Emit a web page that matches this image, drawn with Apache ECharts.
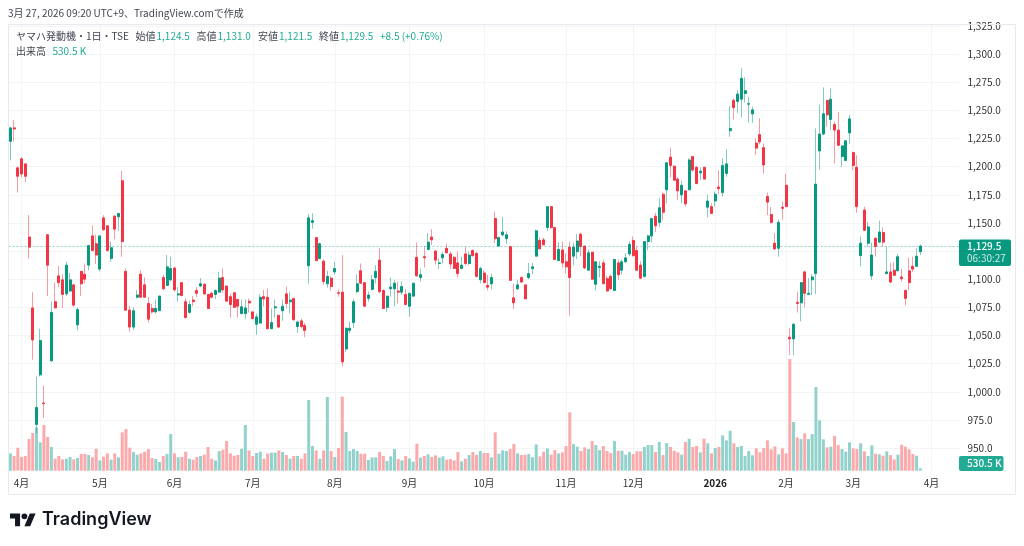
<!DOCTYPE html>
<html>
<head>
<meta charset="utf-8">
<style>
  html, body { margin: 0; padding: 0; background: #fff; }
  #chart { width: 1024px; height: 546px; }
</style>
<script src="https://cdn.jsdelivr.net/npm/echarts@6/dist/echarts.min.js"></script>
</head>
<body>
<div id="chart"></div>
<script>
// 始値
var opens = [
  1222.5,1234.5,1199,1207,1202.5,1137.5,1074.5,971,1015,990,
  1139.5,1027.5,1080,1103,1099.5,1087,1089.5,1095,1059.5,1107,
  1104.5,1112.5,1138.5,1131.5,1109,1154.5,1147.5,1118.5,1156,1155.5,
  1187.5,1107,1072.5,1057.5,1084,1104.5,1095,1078.5,1074,1071,
  1072,1101.5,1094.5,1099.5,1110,1086,1097,1080,1070.5,1081.5,
  1090,1094,1095.5,1086.5,1087.5,1086.5,1088.5,1101.5,1094,1084.5,
  1088,1082,1069.5,1069.5,1080.5,1071,1060,1061,1084.5,1084,
  1056,1074.5,1068,1072,1087,1080,1083,1058,1063,1059,
  1112,1150.5,1137,1118.5,1116,1096,1101,1106.5,1088,1088.5,
  1038,1054.5,1061.5,1089,1107.5,1097,1083,1091,1101.5,1117,
  1090,1075,1091.5,1091.5,1089.5,1088.5,1086.5,1076,1085,1119.5,
  1101.5,1120,1126.5,1137.5,1125,1114,1119,1127.5,1122.5,1119.5,
  1114.5,1109.5,1122.5,1114,1125.5,1123,1099.5,1105.5,1094.5,1096,
  1154,1129.5,1139.5,1136,1129,1083.5,1091.5,1101.5,1095,1101.5,
  1109.5,1120.5,1134.5,1135,1146,1164.5,1146,1116.5,1126,1115.5,
  1128.5,1120.5,1124.5,1140,1129.5,1108,1124,1095.5,1110.5,1114.5,
  1100.5,1102.5,1090,1114.5,1108,1115.5,1122.5,1134.5,1125.5,1112.5,
  1102.5,1133.5,1138.5,1156,1150.5,1175.5,1179.5,1208.5,1200.5,1189,
  1175,1178.5,1179.5,1209,1199.5,1194.5,1199.5,1164,1164.5,1169.5,
  1182,1177,1194,1232,1259,1258,1260,1265,1255.5,1247,
  1221,1228.5,1217,1173.5,1157.5,1132,1127.5,1164,1183.5,1048.5,
  1047,1079.5,1079,1106.5,1086.5,1099.5,1105,1214,1229,1259,
  1242,1237.5,1232.5,1209,1205.5,1230,1212.5,1199.5,1121,1161.5,
  1132,1103,1136.5,1133,1141.5,1105,1106.5,1108,1107.5,1102,
  1090,1107.5,1111.5,1111.5,1124.5
]
// 終値
var closes = [
  1234.5,1233.5,1191.5,1193.5,1191.5,1128.5,1046,986,1045.5,989.5,
  1112.5,1070.5,1074.5,1097,1086.5,1112.5,1099.5,1077,1073,1096,
  1100,1130,1125.5,1121.5,1138.5,1144,1125.5,1128,1144.5,1158.5,
  1133.5,1072.5,1057.5,1072,1086,1084,1084,1064.5,1071,1074,
  1085,1091.5,1111,1109.5,1090.5,1087,1085.5,1066,1077.5,1080,
  1087.5,1096,1087,1074,1084,1090,1101,1090.5,1080.5,1077.5,
  1075,1076,1075.5,1074.5,1079,1065,1066.5,1084,1082.5,1056,
  1061.5,1075.5,1057.5,1076,1078.5,1081.5,1064,1062,1058,1054.5,
  1154.5,1152,1116.5,1131.5,1098,1102.5,1093.5,1109.5,1087.5,1026.5,
  1056.5,1056.5,1080,1096,1096.5,1076,1086,1099.5,1107,1089,
  1074,1085,1093,1096.5,1088.5,1093.5,1077.5,1087.5,1096.5,1103,
  1104,1119,1133,1135,1117,1114.5,1122,1123.5,1113.5,1109.5,
  1105,1112.5,1114,1121.5,1121,1102.5,1109.5,1097,1093,1101.5,
  1136,1137,1142,1139.5,1099,1079,1095,1097.5,1082.5,1105,
  1111,1143,1127,1130.5,1164.5,1146,1117.5,1126.5,1114.5,1111,
  1101.5,1128.5,1134,1129,1110,1123.5,1100,1115.5,1111.5,1096,
  1089.5,1091.5,1117.5,1104,1115.5,1119,1131,1121,1108,1101,
  1133.5,1138.5,1154,1147.5,1163.5,1159.5,1203.5,1201,1188,1178.5,
  1183.5,1167,1206,1197,1185,1196,1189,1169.5,1158.5,1175.5,
  1180.5,1201,1202.5,1234,1252.5,1264.5,1278.5,1267.5,1256,1250.5,
  1216.5,1222,1201.5,1168.5,1150.5,1127,1150.5,1163,1164.5,1047,
  1060,1078.5,1097,1087.5,1087.5,1102,1184.5,1229,1247,1246,
  1260,1232.5,1219,1218.5,1223,1242.5,1201,1164.5,1132,1143.5,
  1146.5,1121.5,1129,1142,1133,1106.5,1097.5,1103.5,1120,1100.5,
  1083,1097,1109,1120.5,1129.5
]
// 安値
var lows = [
  1205.5,1222.5,1177,1190.5,1186.5,1118.5,1028.5,963,1013.5,976.5,
  1085,1027,1074,1093,1074.5,1085,1089,1075.5,1054.5,1085,
  1096.5,1108,1125,1113.5,1107,1143,1124.5,1115.5,1135.5,1143,
  1120,1072,1053.5,1055,1083,1084,1084,1061.5,1069.5,1069.5,
  1072,1090.5,1094,1098,1089,1080,1085,1065,1069.5,1076,
  1084,1093,1086,1074,1083,1082.5,1088.5,1088,1080.5,1066,
  1075,1066,1069,1064.5,1070.5,1064.5,1050.5,1061,1076,1056,
  1056,1066,1056.5,1063,1074.5,1069.5,1063,1052.5,1056.5,1048.5,
  1096,1145,1116.5,1117.5,1095,1092.5,1090,1104,1084.5,1022.5,
  1035.5,1052,1056.5,1087.5,1096,1076,1080,1090,1096.5,1087.5,
  1074,1071,1084.5,1076,1078.5,1086,1077,1066.5,1084.5,1102.5,
  1098,1110.5,1126,1130.5,1113,1109,1114,1123,1109,1109,
  1101.5,1109,1112,1112.5,1120,1101.5,1096.5,1096.5,1090,1091,
  1132,1129,1138,1131.5,1099,1073.5,1090.5,1097,1082.5,1100,
  1104.5,1120.5,1126.5,1130.5,1143,1144.5,1117.5,1116,1110.5,1105,
  1067.5,1112.5,1118,1120.5,1109,1108,1100,1090,1101.5,1095.5,
  1089.5,1091,1089.5,1099.5,1104,1114.5,1120.5,1120,1107.5,1100,
  1101.5,1126,1132.5,1142,1146.5,1152.5,1167.5,1190.5,1187.5,1170.5,
  1167.5,1164.5,1179.5,1195.5,1184.5,1188,1189,1155,1158,1164.5,
  1175.5,1173.5,1191,1226.5,1242,1247.5,1244,1257,1239,1239,
  1210.5,1220,1194,1157,1149.5,1126,1120,1153,1164,1032.5,
  1032.5,1070.5,1062.5,1075,1086,1086,1087,1197.5,1228,1235.5,
  1232.5,1203,1218.5,1200,1205.5,1220.5,1197,1159,1111.5,1143,
  1129,1099.5,1120,1132,1129,1104.5,1096.5,1103,1107,1098,
  1076.5,1090,1106.5,1111,1121.5
]
// 高値
var highs = [
  1234.5,1241.5,1200,1208.5,1203,1157,1088.5,1013.5,1056,1005.5,
  1140,1080,1097,1112,1104.5,1115.5,1105.5,1096,1075,1107,
  1114,1130,1148,1139.5,1138.5,1157,1147.5,1133.5,1157,1158.5,
  1196.5,1109.5,1076.5,1075,1090.5,1108,1101.5,1084.5,1078,1082,
  1085.5,1104,1121.5,1120,1111,1093,1097,1083,1081,1085,
  1093,1101,1096.5,1086.5,1089,1091,1106.5,1109.5,1094,1087,
  1088,1082,1082,1082,1083,1071,1069.5,1087,1090.5,1091.5,
  1074,1082,1068,1082,1093.5,1088.5,1083,1063,1065,1061,
  1158,1158.5,1137,1132.5,1117.5,1107.5,1102.5,1115.5,1091,1121.5,
  1057,1062.5,1082.5,1104,1114,1097,1089,1104,1112.5,1127.5,
  1091,1085,1101.5,1099.5,1098,1098,1091,1088,1096.5,1132.5,
  1109.5,1129.5,1141,1144.5,1126,1118.5,1124.5,1131.5,1124.5,1120.5,
  1124.5,1120,1128.5,1124.5,1126.5,1124.5,1111,1108,1104,1105,
  1160,1138,1155.5,1142.5,1129,1096,1099.5,1102.5,1095,1114.5,
  1114.5,1144,1137,1137,1164.5,1164.5,1146,1133,1133.5,1123,
  1133.5,1132.5,1140,1141.5,1129.5,1126.5,1124,1115.5,1116,1117.5,
  1103,1104,1117.5,1117.5,1117.5,1123,1133.5,1138,1129,1116,
  1133.5,1139.5,1154.5,1159,1172,1177,1203.5,1216.5,1201,1190.5,
  1187.5,1179.5,1207.5,1209,1200.5,1199.5,1199.5,1175,1167.5,1178,
  1197,1207.5,1215.5,1254,1260.5,1268,1287.5,1279.5,1262,1253.5,
  1225,1243,1220.5,1177,1164,1141,1153,1169,1193.5,1056.5,
  1061,1089,1097.5,1107.5,1101,1104.5,1234,1255,1270.5,1259,
  1269.5,1240,1248.5,1218.5,1223,1246,1213.5,1210,1138,1164.5,
  1151,1132.5,1137,1152,1146,1129,1114.5,1115.5,1122.5,1109.5,
  1091,1119.5,1120,1127.5,1131
]
// 出来高 (K)
var volumes = [
  3670,3110,4880,2900,3110,6710,7990,9120,6010,9680,
  7140,5020,2540,3110,2400,2540,2900,2400,2690,3530,
  3530,3320,2830,4660,2190,2970,3670,2330,3670,2830,
  8130,8830,4880,3960,3390,3670,4030,4590,2690,2470,
  1840,3110,3530,7770,3670,2830,2900,4030,2540,2330,
  2900,3110,3390,5020,2540,2190,4170,4450,6290,3670,
  3180,3320,4660,9680,4310,3110,3750,4030,2540,3670,
  3820,3820,4310,3960,3320,2540,3110,3110,2540,3670,
  14980,5230,4310,2540,4310,15620,4170,2900,4810,15690,
  8200,4170,4590,4170,3600,3600,2260,2830,2830,3960,
  3110,2050,3040,4590,2470,2190,3110,2610,1910,5720,
  2760,3110,3460,2900,3250,2760,3040,2330,2470,2190,
  3960,1980,2540,3320,3960,3320,4170,3750,3750,2830,
  8130,3600,4310,4170,4590,5650,3670,3320,3390,3530,
  2830,5580,3040,4030,4730,3390,4380,3670,3890,5230,
  12370,5650,5090,4170,4950,4590,6290,5440,4380,5230,
  4170,3750,6290,4240,4240,3390,3960,3530,4100,4100,
  5020,5440,5440,3960,6080,3320,5870,5020,4240,3890,
  3390,6080,6780,5020,5230,3890,6780,5800,3670,4810,
  5020,7490,6430,8480,5800,5020,5230,3110,4170,3250,
  4730,3890,4810,6430,4520,5160,3460,4730,3670,23670,
  10320,7070,6710,7920,6710,7770,17740,10670,6640,4950,
  5090,7350,5440,4590,4030,6010,4730,4590,5800,4100,
  3110,5370,3600,3460,3180,4100,3320,2400,3390,5510,
  5090,4520,3530,3180,530.5
]
// 時間軸の目盛り
var tickIndex = [3, 24, 44, 65, 87, 107, 127, 149, 167, 189, 208, 226, 247]
var tickLabels = ['4月', '5月', '6月', '7月', '8月', '9月', '10月', '11月', '12月', '2026', '2月', '3月', '4月']
var priceTicks = [950, 975, 1000, 1025, 1050, 1075, 1100, 1125, 1150, 1175, 1200, 1225, 1250, 1275, 1300, 1325]
var lastPrice = 1129.5

var UP = '#089981'
var DOWN = '#F23645'
var UP_WICK = 'rgba(8,153,129,0.5)'
var DOWN_WICK = 'rgba(242,54,69,0.5)'
var FONT = "'Noto Sans CJK JP','Noto Sans',sans-serif"
var BAND_COUNT = 255

var categories = []
for (var i = 0; i < BAND_COUNT; i++) {
  var t = tickIndex.indexOf(i)
  categories.push(t >= 0 ? tickLabels[t] : String(i))
}
var isTick = function(index) {
  return tickIndex.indexOf(index) >= 0
}

var wicks = opens.map(function(o, i) {
  return [o, closes[i], lows[i], highs[i]]
})
// 実体だけの系列 (ヒゲは上の系列で薄く描く)
var bodies = opens.map(function(o, i) {
  return [o, closes[i], Math.min(o, closes[i]), Math.max(o, closes[i])]
})
var volumeBars = volumes.map(function(v, i) {
  return {
    value: v,
    itemStyle: { color: closes[i] >= opens[i] ? '#92D2CC' : '#FBA9AB' },
  }
})

var textItem = function(text, x, y, color, size, weight, family) {
  return {
    type: 'text',
    x: x,
    y: y,
    z: 20,
    style: {
      text: text,
      fill: color,
      font: (weight || 'normal') + ' ' + size + 'px ' + (family || FONT),
      textVerticalAlign: 'middle',
    },
  }
}
var GREY = '#434651'
var TEAL = '#22AB94'

var option = {
  animation: false,
  backgroundColor: '#fff',
  grid: [
    { left: 8.5, width: 951, top: 24, height: 447 },
    { left: 8.5, width: 951, top: 357.5, height: 113.2 },
  ],
  xAxis: [
    {
      type: 'category',
      gridIndex: 0,
      data: categories,
      axisLine: { show: false },
      axisTick: { show: false },
      axisLabel: {
        interval: isTick,
        margin: 7,
        color: '#333',
        fontFamily: FONT,
        fontSize: 10,
        hideOverlap: false,
        formatter: function(v) {
          return v === '2026' ? '{b|2026}' : v
        },
        rich: { b: { fontWeight: 'bold', fontSize: 10, fontFamily: FONT, color: '#222' } },
      },
      splitLine: {
        show: true,
        alignWithLabel: true,
        interval: isTick,
        lineStyle: { color: '#F3F4F6', width: 1 },
      },
    },
    {
      type: 'category',
      gridIndex: 1,
      data: categories,
      show: false,
    },
  ],
  yAxis: [
    {
      type: 'value',
      gridIndex: 0,
      position: 'right',
      min: 929.6,
      max: 1326.8,
      axisLine: { show: false },
      axisTick: { show: false, customValues: priceTicks },
      axisLabel: {
        customValues: priceTicks,
        margin: 8,
        color: '#333',
        fontFamily: FONT,
        fontSize: 10,
        formatter: function(v) {
          return v.toLocaleString('en-US', { minimumFractionDigits: 1, maximumFractionDigits: 1 })
        },
      },
      splitLine: { show: true, lineStyle: { color: '#F3F4F6', width: 1 } },
    },
    {
      type: 'value',
      gridIndex: 1,
      min: 0,
      max: 24000,
      show: false,
    },
  ],
  series: [
    {
      name: '出来高',
      type: 'bar',
      xAxisIndex: 1,
      yAxisIndex: 1,
      data: volumeBars,
      barWidth: 3,
    },
    {
      name: 'ヒゲ',
      type: 'candlestick',
      xAxisIndex: 0,
      yAxisIndex: 0,
      data: wicks,
      barWidth: 1,
      itemStyle: {
        color: 'transparent',
        color0: 'transparent',
        borderColor: UP_WICK,
        borderColor0: DOWN_WICK,
        borderWidth: 1,
      },
      markLine: {
        silent: true,
        symbol: 'none',
        label: { show: false },
        lineStyle: { color: 'rgba(8,153,129,0.45)', type: [2, 2], width: 1 },
        data: [{ yAxis: lastPrice }],
      },
    },
    {
      name: 'ヤマハ発動機',
      type: 'candlestick',
      xAxisIndex: 0,
      yAxisIndex: 0,
      data: bodies,
      barWidth: 2.5,
      itemStyle: {
        color: UP,
        color0: DOWN,
        borderColor: UP,
        borderColor0: DOWN,
        borderWidth: 1,
      },
    },
  ],
  graphic: [
    // 外枠
    {
      type: 'rect',
      z: 10,
      shape: { x: 8.5, y: 24.5, width: 1007, height: 470 },
      style: { fill: 'none', stroke: '#E8E9EE', lineWidth: 1 },
    },
    textItem('3月 27, 2026 09:20 UTC+9、TradingView.comで作成', 8, 13, GREY, 10),
    textItem('ヤマハ発動機・1日・TSE', 16, 36, GREY, 10),
    textItem('始値', 135.5, 36, GREY, 10),
    textItem('1,124.5', 156.5, 36, TEAL, 10),
    textItem('高値', 196.5, 36, GREY, 10),
    textItem('1,131.0', 217.5, 36, TEAL, 10),
    textItem('安値', 258, 36, GREY, 10),
    textItem('1,121.5', 279, 36, TEAL, 10),
    textItem('終値', 319, 36, GREY, 10),
    textItem('1,129.5', 340, 36, TEAL, 10),
    textItem('+8.5 (+0.76%)', 380, 36, TEAL, 10),
    textItem('出来高', 16, 51.5, GREY, 10),
    textItem('530.5 K', 52.5, 51.5, TEAL, 10),
    // 現在値タグ
    {
      type: 'rect',
      z: 15,
      shape: { x: 959, y: 239.5, width: 52, height: 26.5, r: 2 },
      style: { fill: UP },
    },
    textItem('1,129.5', 967, 246.5, '#fff', 10, '500'),
    textItem('06:30:27', 967, 258.5, '#CFEAE5', 10),
    // 出来高タグ
    {
      type: 'rect',
      z: 15,
      shape: { x: 959, y: 456, width: 44.5, height: 15, r: 2 },
      style: { fill: '#22AB94' },
    },
    textItem('530.5 K', 967, 463.5, '#fff', 10, '500'),
    // ロゴ
    {
      type: 'polygon',
      z: 20,
      x: 10,
      y: 510.5,
      scaleX: 0.72,
      scaleY: 0.72,
      shape: { points: [[14, 22], [7, 22], [7, 11], [0, 11], [0, 4], [14, 4]] },
      style: { fill: '#131722' },
    },
    {
      type: 'polygon',
      z: 20,
      x: 10,
      y: 510.5,
      scaleX: 0.72,
      scaleY: 0.72,
      shape: { points: [[28, 22], [20, 22], [27.5, 4], [35.5, 4]] },
      style: { fill: '#131722' },
    },
    {
      type: 'circle',
      z: 20,
      x: 10,
      y: 510.5,
      scaleX: 0.72,
      scaleY: 0.72,
      shape: { cx: 20, cy: 8, r: 4 },
      style: { fill: '#131722' },
    },
    textItem('TradingView', 42, 520, '#131722', 18, '600', "Inter,'Noto Sans',sans-serif"),
  ],
}

var myChart = echarts.init(document.getElementById('chart'), null, { renderer: 'canvas' })
myChart.setOption(option)
window.addEventListener('resize', function() {
  myChart.resize()
})
</script>
</body>
</html>
